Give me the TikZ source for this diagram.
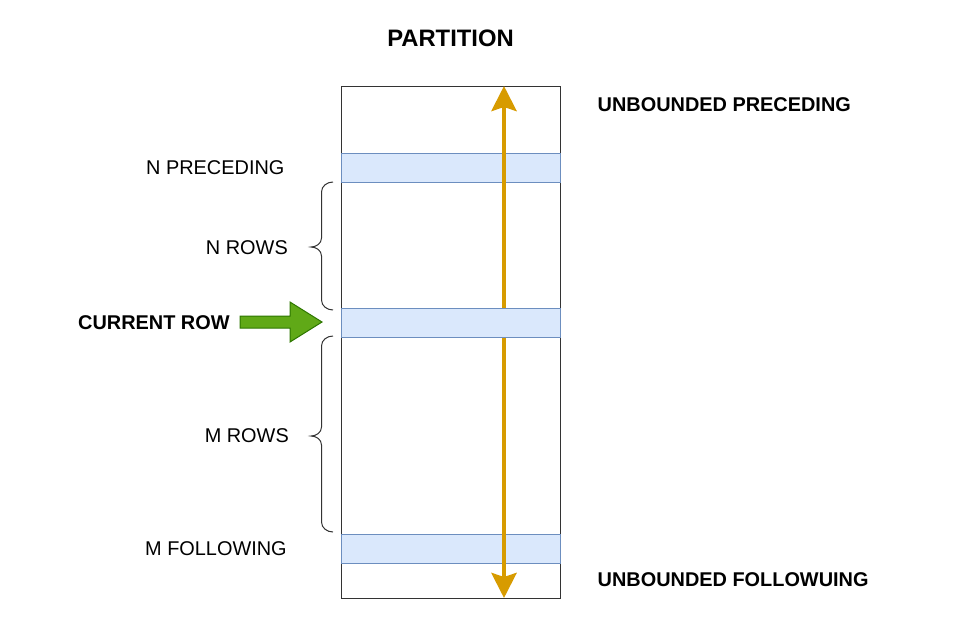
\documentclass[tikz,border=0pt]{standalone}
\usepackage{fontspec}
\setmainfont{Liberation Sans}
\usetikzlibrary{arrows.meta,positioning}
\definecolor{bandfill}{HTML}{DAE8FC}
\definecolor{banddraw}{HTML}{6C8EBF}
\definecolor{orangeln}{HTML}{D79B00}
\definecolor{greenfill}{HTML}{60A917}
\definecolor{greendraw}{HTML}{2D7600}
\definecolor{boxdraw}{HTML}{333333}
\tikzset{
  band/.style={draw=banddraw, fill=bandfill, line width=1pt, rectangle, inner sep=0pt, minimum width=219pt, anchor=north west},
  lbl/.style={inner sep=0pt, font=\fontsize{19.9}{23}\selectfont},
  blbl/.style={inner sep=0pt, font=\fontsize{19.9}{23}\selectfont\bfseries},
  bracestyle/.style={draw=boxdraw, line width=1pt},
  bigarrow/.style={draw=orangeln, line width=4.5pt, {Stealth[length=25pt,width=25pt,inset=4pt]}-{Stealth[length=25pt,width=25pt,inset=4pt]}},
}
\begin{document}
\begin{tikzpicture}[x=1pt,y=-1pt]
\useasboundingbox (0,0) rectangle (966,624);
% partition box
\node[draw=boxdraw, line width=1pt, fill=white, inner sep=0pt, minimum width=219pt, minimum height=512pt, anchor=north west] (part) at (341,86) {};
\node[band, minimum height=29pt] (np) at (341,153) {};
\node[band, minimum height=29pt] (mf) at (341,534) {};
% orange arrow
\coordinate (atop) at (504,86);
\coordinate (abot) at (504,598);
\draw[bigarrow] (atop) -- (abot);
\node[band, minimum height=29pt] (cr) at (341,308) {};
% braces
\draw[bracestyle] (333,182) to[out=180,in=90] (321.5,192) -- (321.5,238) to[out=-90,in=0] (311,247) to[out=0,in=90] (321.5,256) -- (321.5,300) to[out=-90,in=180] (333,310);
\draw[bracestyle] (333,336) to[out=180,in=90] (321.5,346) -- (321.5,427) to[out=-90,in=0] (311,436) to[out=0,in=90] (321.5,445) -- (321.5,522) to[out=-90,in=180] (333,532);
% green arrow
\draw[draw=greendraw, fill=greenfill, line width=1pt] (240,316) -- (290,316) -- (290,302) -- (322,322) -- (290,342) -- (290,328) -- (240,328) -- cycle;
% labels
\node[inner sep=0pt, font=\fontsize{23.8}{27}\selectfont\bfseries] (title) at (450.5,38.5) {PARTITION};
\node[blbl, anchor=west] (ubp) at (597.5,104.5) {UNBOUNDED PRECEDING};
\node[blbl, anchor=west] (ubf) at (597.5,580) {UNBOUNDED FOLLOWUING};
\node[lbl, anchor=west] (npl) at (146,167.5) {N PRECEDING};
\node[lbl, anchor=east] (nrows) at (288,247.5) {N ROWS};
\node[blbl, anchor=west] (crl) at (78,322.5) {CURRENT ROW};
\node[lbl, anchor=east] (mrows) at (289,436) {M ROWS};
\node[lbl, anchor=west] (mfl) at (145,549) {M FOLLOWING};
\end{tikzpicture}
\end{document}
